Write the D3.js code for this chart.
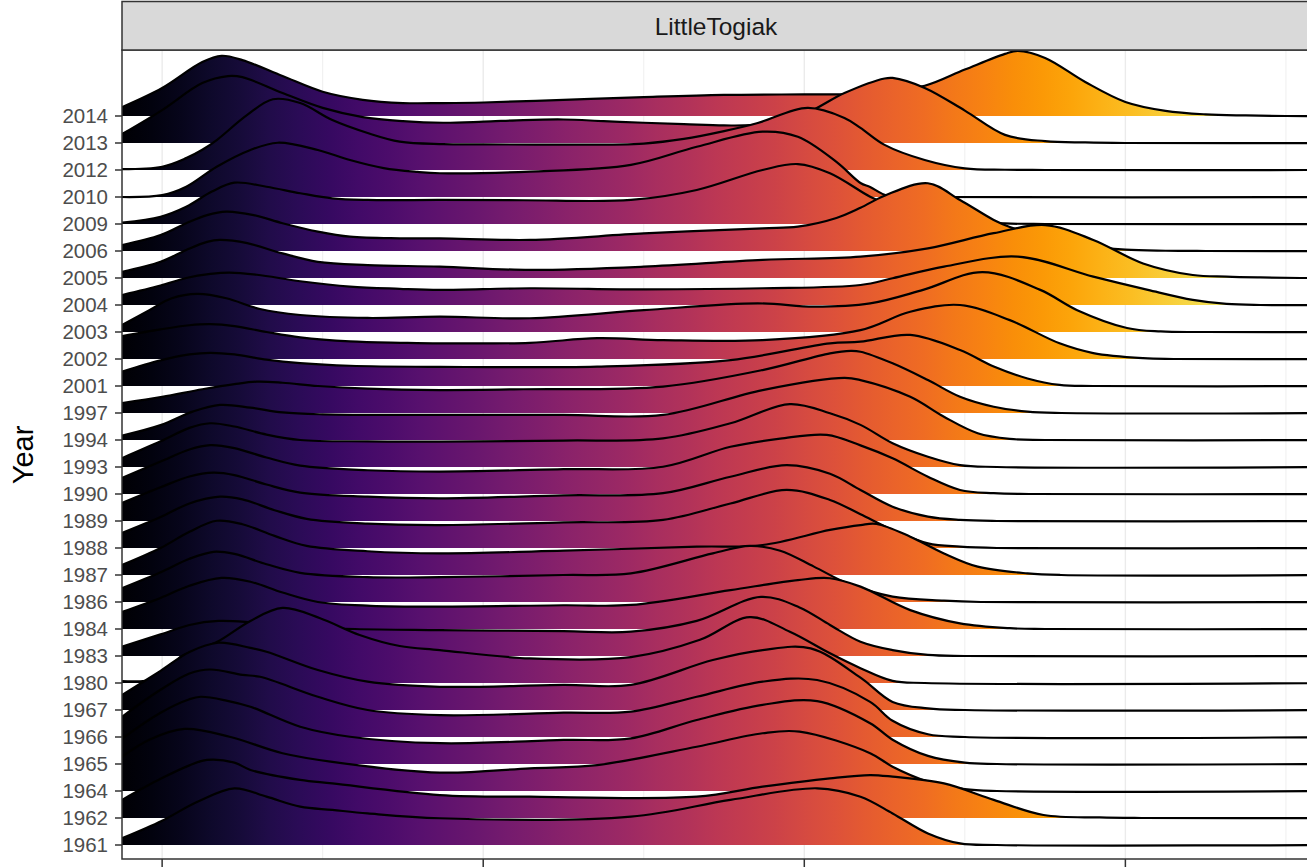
<!DOCTYPE html>
<html><head><meta charset="utf-8">
<script src="https://cdn.jsdelivr.net/npm/d3@7"></script>
<style>html,body{margin:0;padding:0;background:#fff;overflow:hidden;} svg{display:block;}</style>
</head><body>
<svg id="chart" width="1307" height="867"></svg>
<script>
// ---- data (x = length, h = ridge height in row units) ----
const facetLabel = "LittleTogiak";
const yTitle = "Year";
const years = ["2014","2013","2012","2010","2009","2006","2005","2004","2003","2002","2001","1997","1994","1993","1990","1989","1988","1987","1986","1984","1983","1980","1967","1966","1965","1964","1962","1961"];
const xMajorTicks = [40,60,80,100];
const xMinorTicks = [50,70,90,110];

const ridge2014 = [[37.5,0.33],[40,1.04],[42.5,2.0],[43.7,2.23],[45,2.07],[47.5,1.48],[50,0.9],[52.5,0.6],[55,0.48],[57.5,0.48],[60,0.5],[65,0.6],[70,0.7],[75,0.78],[80,0.8],[82.5,0.81],[85,0.95],[87.5,1.12],[90,1.72],[92.5,2.3],[93.3,2.41],[95,2.15],[97.5,1.26],[100,0.52],[102.5,0.19],[105,0.06],[107.5,0.02],[110,0],[114,0]];
const ridge2013 = [[37.5,0.33],[40,1.22],[42.5,2.22],[44.1,2.48],[45,2.44],[47.5,1.85],[50,1.3],[52.5,0.96],[55,0.81],[57.5,0.75],[60,0.79],[62.5,0.85],[65,0.87],[67.5,0.81],[70,0.75],[72.5,0.7],[75,0.65],[77.5,0.7],[80,1.07],[82.5,1.85],[85,2.39],[85.5,2.41],[87.5,2.04],[90,1.2],[92.5,0.3],[95,0.07],[97.5,0.02],[100,0],[114,0]];
const ridge2012 = [[37.5,0.03],[40,0.12],[41.5,0.44],[42.5,0.75],[43.4,1.11],[45.3,2.04],[46.9,2.62],[48.6,2.48],[50.6,1.85],[52.8,1.37],[54.8,1.05],[57.5,0.96],[60,0.95],[65,0.94],[70,0.98],[72.5,1.15],[75,1.44],[77.1,1.74],[80.2,2.3],[82.5,1.93],[83.5,1.56],[85,0.93],[87.5,0.37],[90,0.06],[92.5,0.01],[95,0],[114,0]];
const ridge2010 = [[37.5,0],[40,0.07],[41.5,0.38],[43.4,1.12],[45.5,1.74],[47.2,2.01],[49.7,1.74],[51.7,1.37],[53.8,1.07],[55.9,0.93],[57.3,0.88],[62.9,0.94],[69.2,1.19],[73.3,1.86],[77.4,2.42],[79.6,2.23],[82,1.3],[83.5,0.52],[84.1,0.37],[85.2,0.04],[87.5,0],[114,0]];
const ridge2009 = [[37.5,0.05],[39.9,0.27],[41.5,0.64],[43.1,1.2],[44.5,1.53],[46.5,1.38],[48.6,1.14],[50.6,0.95],[52.8,0.89],[57.3,0.89],[62.5,0.88],[69.2,0.89],[73.3,1.26],[77.4,2.0],[79.6,2.22],[81.6,1.88],[84.1,1.01],[85,0.78],[87.5,0.33],[90,0.11],[92.5,0.02],[95,0],[114,0]];
const ridge2006 = [[37.5,0.22],[39.9,0.59],[41.5,1.03],[42.8,1.33],[44.0,1.46],[45.7,1.33],[47.5,1.03],[49.7,0.72],[51.7,0.53],[54.8,0.47],[57.3,0.47],[62.9,0.41],[70,0.65],[77.4,0.84],[79.6,0.9],[82,1.22],[83.5,1.6],[85,2.05],[87.7,2.51],[89.7,1.89],[91.8,1.15],[92.8,0.89],[95,0.5],[97.5,0.2],[100,0.05],[102.5,0.01],[105,0],[114,0]];
const ridge2005 = [[37.5,0.23],[39.9,0.6],[41.5,1.04],[42.8,1.34],[43.6,1.41],[45.3,1.29],[47.5,0.91],[49.7,0.6],[52.8,0.48],[57.3,0.42],[62.9,0.3],[70,0.42],[77.4,0.67],[83.5,0.79],[87.7,1.1],[91.8,1.66],[95,1.96],[98,1.41],[101.1,0.54],[104.2,0.11],[106.3,0.05],[108.4,0.02],[110.9,0],[114,0]];
const ridge2004 = [[37.5,0.37],[39.9,0.72],[41.5,1.0],[43.0,1.15],[44.2,1.2],[45.9,1.12],[48.6,0.88],[51.7,0.68],[54.8,0.6],[57.3,0.56],[62.9,0.62],[70,0.58],[77.4,0.62],[83.5,0.74],[85.5,0.99],[88.7,1.42],[93.3,1.79],[98,1.05],[101.4,0.56],[104.2,0.19],[106.3,0.04],[108.4,0],[114,0]];
const ridge2003 = [[37.5,0.26],[39.2,0.81],[40.6,1.25],[42.2,1.41],[44.0,1.25],[46.1,0.85],[48.6,0.63],[52.8,0.52],[57.3,0.57],[62.9,0.51],[70,0.81],[77.1,1.06],[80.6,0.94],[84.1,1.06],[87.4,1.56],[91.1,2.22],[94.7,1.56],[97,0.81],[100.1,0.15],[102.2,0.02],[105,0],[114,0]];
const ridge2002 = [[37.5,0.85],[39.9,1.1],[41.7,1.25],[43.0,1.29],[44.5,1.22],[46.5,1.0],[48.6,0.8],[51.7,0.65],[55,0.6],[57.3,0.58],[62.9,0.6],[67.1,0.77],[71.2,0.7],[77.4,0.7],[83.5,1.07],[86.6,1.75],[89.7,2.0],[92.8,1.44],[95.9,0.58],[98,0.22],[101.1,0.03],[103,0],[114,0]];
const ridge2001 = [[37.5,0.53],[39.9,0.95],[41.7,1.17],[43.0,1.23],[44.5,1.17],[46.5,0.98],[48.6,0.85],[51.7,0.75],[57.3,0.71],[67.1,0.72],[75.4,0.96],[81.6,1.58],[83.5,1.64],[86.6,1.89],[89.7,1.33],[91.8,0.72],[93.9,0.28],[95.9,0.04],[98,0],[114,0]];
const ridge1997 = [[37.5,0.37],[40,0.6],[42.5,0.88],[44.5,1.07],[45.9,1.16],[47.5,1.12],[49.7,1.0],[52.8,0.9],[57.3,0.85],[62.5,0.88],[71.2,0.98],[77.4,1.59],[81.6,2.21],[82.9,2.3],[83.5,2.27],[85.5,1.84],[87.7,1.22],[89.7,0.6],[91.8,0.23],[93.9,0.05],[96,0],[114,0]];
const ridge1994 = [[37.5,0.16],[39.9,0.55],[41.9,1.05],[43.6,1.3],[45.5,1.2],[47.5,1.02],[50,0.95],[57.3,0.93],[65,0.93],[71.2,0.93],[77.4,1.85],[82.5,2.3],[83.5,2.22],[86.6,1.6],[88.7,0.86],[90.8,0.25],[92.8,0.04],[95,0],[114,0]];
const ridge1993 = [[37.5,0.33],[39.9,0.95],[41.7,1.45],[43.0,1.62],[44.5,1.5],[46.5,1.2],[48.6,1.0],[52.8,0.95],[57.3,0.94],[65,0.98],[71.2,1.06],[75.4,1.62],[79.1,2.33],[81.6,1.99],[83.5,1.56],[85.5,0.88],[87.7,0.38],[89.7,0.07],[92,0],[114,0]];
const ridge1990 = [[37.5,0.59],[39.9,1.2],[41.7,1.65],[43.0,1.81],[44.5,1.7],[46.5,1.35],[48.6,1.05],[52.8,0.88],[57.3,0.83],[65,0.92],[71.2,1.01],[75.4,1.75],[78.5,2.05],[81.4,2.19],[83.5,1.8],[85.5,1.32],[87.7,0.64],[89.7,0.15],[91.8,0.03],[94,0],[114,0]];
const ridge1989 = [[37.5,0.67],[39.9,1.25],[41.7,1.65],[43.2,1.79],[44.5,1.7],[46.5,1.35],[48.6,1.05],[52.8,0.9],[57.3,0.84],[65,0.95],[71.2,1.03],[75.4,1.64],[78.9,2.07],[81.6,1.75],[83.5,1.15],[85.5,0.53],[87.7,0.16],[89.7,0.04],[92,0],[114,0]];
const ridge1988 = [[37.5,0.56],[39.9,1.15],[41.7,1.65],[43.6,1.9],[45,1.8],[47,1.4],[49,1.08],[52.8,0.9],[57.3,0.85],[65,0.95],[71.2,1.04],[75.4,1.65],[78.9,2.15],[81.6,1.78],[83.5,1.25],[85.5,0.67],[87.7,0.17],[89.7,0.05],[92,0],[114,0]];
const ridge1987 = [[37.5,0.37],[39.9,1.0],[41.7,1.6],[43.4,2.01],[45,1.88],[47,1.45],[49,1.08],[52.8,0.88],[57.3,0.8],[65,0.9],[73.3,1.05],[77.4,1.11],[81.6,1.67],[83.5,1.85],[84.5,1.89],[86.6,1.42],[88.7,0.8],[90.8,0.31],[93.9,0.06],[96,0],[114,0]];
const ridge1986 = [[37.5,0.51],[39.9,1.1],[41.7,1.6],[43.2,1.86],[44.5,1.78],[46.5,1.4],[48.6,1.08],[52.8,0.92],[57.3,0.92],[65,1.0],[69.2,1.06],[74.3,1.8],[76.6,2.08],[78.5,1.9],[80.6,1.31],[82.7,0.69],[85.5,0.2],[88.7,0.05],[91,0],[114,0]];
const ridge1984 = [[37.5,0.63],[39.9,1.15],[41.7,1.6],[43.7,1.89],[45.5,1.75],[47.5,1.35],[49.7,1.0],[53,0.86],[57.3,0.83],[65,0.88],[69.2,0.89],[75.4,1.44],[79.6,1.81],[81.6,1.88],[83.5,1.57],[86.6,0.7],[89.7,0.21],[92.8,0.03],[95,0],[114,0]];
const ridge1983 = [[37.5,0.35],[39.9,0.8],[41.7,1.15],[43.5,1.3],[45.5,1.25],[48,1.1],[52,1.0],[57.3,0.96],[65,0.92],[69.2,0.9],[73.3,1.3],[77.3,2.19],[79.7,1.8],[81.6,1.15],[83.5,0.53],[85.5,0.22],[87.7,0.04],[90,0],[114,0]];
const ridge1980 = [[37.5,0.07],[39.5,0.12],[40.3,0.35],[41.1,0.95],[42.3,1.25],[43.5,1.55],[45.5,2.3],[47.5,2.78],[49.8,2.41],[52.3,1.78],[54.8,1.37],[57.3,1.22],[62.9,0.91],[69.2,0.96],[73.5,1.6],[76.6,2.44],[79.1,1.9],[81.6,1.1],[83.5,0.55],[85.5,0.08],[87.5,0],[114,0]];
const ridge1967 = [[37.5,0.55],[39.9,1.45],[41.7,2.15],[43.5,2.49],[45.5,2.3],[46.5,2.16],[49.7,1.48],[52.8,1.05],[57.3,0.86],[65,0.93],[69.2,0.93],[74.3,1.85],[77.4,2.22],[80.4,2.28],[83.5,1.2],[85.5,0.3],[87.7,0.06],[90,0],[114,0]];
const ridge1966 = [[37.5,0.75],[39.9,1.75],[41.7,2.35],[43.0,2.5],[45,2.3],[46.1,2.23],[49.7,1.49],[52.8,1.0],[57.3,0.81],[65,0.9],[69.2,0.94],[73.3,1.49],[77.4,2.05],[80.8,2.11],[84.1,1.3],[85.5,0.6],[87.7,0.1],[90,0],[114,0]];
const ridge1965 = [[37.5,0.94],[39.9,1.9],[41.7,2.4],[42.4,2.49],[44,2.35],[45.5,2.12],[48.6,1.38],[51.7,1.01],[57.3,0.77],[65,0.89],[69.2,0.95],[73.3,1.63],[77.4,2.19],[80.8,2.33],[84.1,1.51],[85.5,0.9],[87.7,0.3],[90,0.05],[92,0],[114,0]];
const ridge1964 = [[37.5,1.27],[39.2,1.9],[41.4,2.3],[44.2,2.01],[47.5,1.4],[50.6,1.08],[57.3,0.68],[62.9,0.84],[67.1,0.96],[73.3,1.64],[77.4,2.14],[79.7,2.2],[84.1,1.4],[85.5,0.9],[87.7,0.35],[90,0.07],[92,0],[114,0]];
const ridge1962 = [[37.5,0.67],[39.9,1.45],[41.7,1.95],[42.8,2.15],[44.5,2.05],[45.5,1.78],[48.6,1.41],[50.6,1.28],[57.3,0.85],[62.9,0.79],[73.3,0.79],[77.4,1.16],[81.6,1.47],[84.1,1.59],[85.5,1.53],[88.7,1.28],[91.8,0.67],[94.9,0.11],[98.4,0.02],[101,0],[114,0]];
const ridge1961 = [[37.5,0.25],[40,0.9],[42.2,1.6],[44.5,2.1],[46.5,1.79],[48.6,1.42],[50.6,1.3],[52.8,1.17],[57.3,0.99],[69.2,1.05],[75.4,1.67],[80.8,2.1],[83.5,1.79],[85.5,1.17],[87.7,0.43],[89.7,0.06],[92,0],[114,0]];

const ridgeData = {"2014":ridge2014,"2013":ridge2013,"2012":ridge2012,"2010":ridge2010,"2009":ridge2009,"2006":ridge2006,"2005":ridge2005,"2004":ridge2004,"2003":ridge2003,"2002":ridge2002,"2001":ridge2001,"1997":ridge1997,"1994":ridge1994,"1993":ridge1993,"1990":ridge1990,"1989":ridge1989,"1988":ridge1988,"1987":ridge1987,"1986":ridge1986,"1984":ridge1984,"1983":ridge1983,"1980":ridge1980,"1967":ridge1967,"1966":ridge1966,"1965":ridge1965,"1964":ridge1964,"1962":ridge1962,"1961":ridge1961};

// ---- layout ----
const svg = d3.select("#chart");
const panel = {left:122, right:1310, top:50, bottom:859};
const x = d3.scaleLinear().domain([37.5,111.5]).range([panel.left,panel.right]);
const y = d3.scalePoint().domain(years).range([116,845]);
const step = y.step();
const hScale = d3.scaleLinear().domain([0,1]).range([0,step]);
const fillColor = d3.scaleSequential(d3.interpolateInferno).domain(x.domain());

const defs = svg.append("defs");
defs.append("clipPath").attr("id","pclip").append("rect")
  .attr("x",panel.left).attr("y",panel.top).attr("width",panel.right-panel.left).attr("height",panel.bottom-panel.top);
const grad = defs.append("linearGradient").attr("id","infernoGrad")
  .attr("gradientUnits","userSpaceOnUse")
  .attr("x1",x(x.domain()[0])).attr("x2",x(x.domain()[1])).attr("y1",0).attr("y2",0);
d3.range(0,41).forEach(i=>{
  const v = x.domain()[0] + (x.domain()[1]-x.domain()[0])*i/40;
  grad.append("stop").attr("offset",i/40).attr("stop-color",fillColor(v));
});

// panel background + grid
svg.append("rect").attr("x",panel.left).attr("y",panel.top).attr("width",panel.right-panel.left).attr("height",panel.bottom-panel.top).attr("fill","#fff");
const grid = svg.append("g");
grid.selectAll("line.minor").data(xMinorTicks).join("line")
  .attr("x1",d=>x(d)).attr("x2",d=>x(d)).attr("y1",panel.top).attr("y2",panel.bottom)
  .attr("stroke","#ebebeb").attr("stroke-width",0.8);
grid.selectAll("line.major").data(xMajorTicks).join("line")
  .attr("x1",d=>x(d)).attr("x2",d=>x(d)).attr("y1",panel.top).attr("y2",panel.bottom)
  .attr("stroke","#ebebeb").attr("stroke-width",1.4);

// ridges, top first so lower rows overlap
const ridges = svg.append("g").attr("clip-path","url(#pclip)");
const curve = d3.curveCatmullRom.alpha(0.5);
const area = d3.area().curve(curve);
const line = d3.line().curve(curve);
years.forEach(yr=>{
  const base = y(yr);
  const pts = ridgeData[yr];
  const g = ridges.append("g");
  g.append("path").datum(pts)
    .attr("d", area.x(d=>x(d[0])).y0(base).y1(d=>base - hScale(d[1])))
    .attr("fill","url(#infernoGrad)").attr("stroke","none");
  g.append("path").datum(pts)
    .attr("d", line.x(d=>x(d[0])).y(d=>base - hScale(d[1])))
    .attr("fill","none").attr("stroke","#000").attr("stroke-width",2.2).attr("stroke-linejoin","round");
});

// panel border
svg.append("rect").attr("x",panel.left).attr("y",panel.top).attr("width",panel.right-panel.left).attr("height",panel.bottom-panel.top)
  .attr("fill","none").attr("stroke","#333333").attr("stroke-width",1.5);

// strip
svg.append("rect").attr("x",panel.left).attr("y",1.5).attr("width",panel.right-panel.left).attr("height",panel.top-1.5)
  .attr("fill","#d9d9d9").attr("stroke","#333333").attr("stroke-width",1.5);
svg.append("text").attr("x",(panel.left+panel.right)/2).attr("y",35)
  .attr("text-anchor","middle").attr("font-family","Liberation Sans, Arial, sans-serif")
  .attr("font-size",24.5).attr("fill","#1a1a1a").text(facetLabel);

// y axis
const yAxis = svg.append("g");
yAxis.selectAll("line").data(years).join("line")
  .attr("x1",panel.left-7).attr("x2",panel.left).attr("y1",d=>y(d)).attr("y2",d=>y(d))
  .attr("stroke","#333333").attr("stroke-width",1.5);
yAxis.selectAll("text").data(years).join("text")
  .attr("x",panel.left-14).attr("y",d=>y(d)).attr("dy","0.36em")
  .attr("text-anchor","end").attr("font-family","Liberation Sans, Arial, sans-serif")
  .attr("font-size",20.5).attr("fill","#4d4d4d").text(d=>d);
svg.append("text").attr("transform","translate(33,455) rotate(-90)")
  .attr("text-anchor","middle").attr("font-family","Liberation Sans, Arial, sans-serif")
  .attr("font-size",29).attr("fill","#000").text(yTitle);

// x axis ticks (labels fall below the visible area)
svg.append("g").selectAll("line").data(xMajorTicks).join("line")
  .attr("x1",d=>x(d)).attr("x2",d=>x(d)).attr("y1",panel.bottom).attr("y2",panel.bottom+8)
  .attr("stroke","#333333").attr("stroke-width",1.5);
</script>
</body></html>
